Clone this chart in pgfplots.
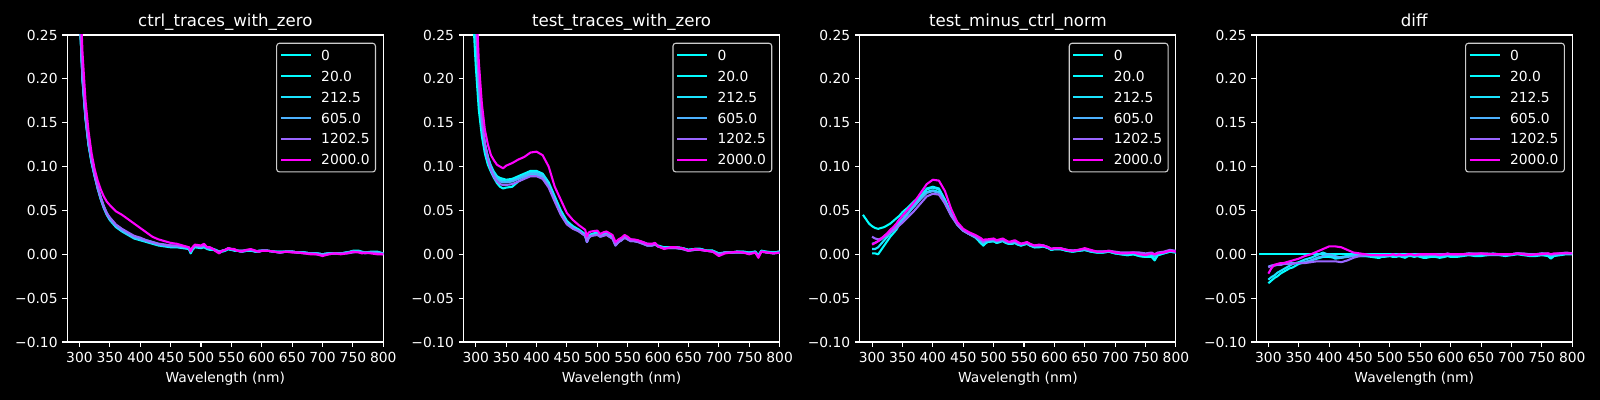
\documentclass[border=0pt]{standalone}
\usepackage{fontspec}
\setmainfont{DejaVu Sans}
\usepackage{pgfplots}
\usepackage{pgfplotstable}
\pgfplotsset{compat=1.18}
\definecolor{c0}{rgb}{0,1,1}
\definecolor{c1}{rgb}{0.01,0.99,1}
\definecolor{c2}{rgb}{0.10625,0.89375,1}
\definecolor{c3}{rgb}{0.3025,0.6975,1}
\definecolor{c4}{rgb}{0.60125,0.39875,1}
\definecolor{c5}{rgb}{1,0,1}

\pgfplotstableread{
x a b c d e f
285 0.60 nan nan nan nan nan
290 0.46 nan nan nan nan nan
295 0.35 nan nan nan nan nan
300 0.279 0.280 0.281 0.282 0.284 0.320
305 0.199 0.200 0.201 0.202 0.204 0.230
310 0.154 0.155 0.156 0.157 0.158 0.175
315 0.124 0.125 0.126 0.127 0.128 0.140
320 0.104 0.105 0.106 0.106 0.107 0.115
325 0.089 0.091 0.090 0.089 0.091 0.097
330 0.075 0.077 0.076 0.075 0.077 0.084
335 0.063 0.065 0.064 0.063 0.065 0.074
340 0.053 0.055 0.054 0.053 0.055 0.066
345 0.045 0.047 0.046 0.045 0.047 0.060
350 0.039 0.041 0.040 0.040 0.042 0.056
360 0.031 0.033 0.032 0.032 0.034 0.049
370 0.026 0.028 0.027 0.027 0.029 0.045
380 0.022 0.024 0.023 0.023 0.025 0.040
390 0.018 0.020 0.019 0.019 0.021 0.035
400 0.016 0.018 0.017 0.017 0.019 0.030
410 0.014 0.016 0.015 0.015 0.016 0.025
420 0.012 0.014 0.013 0.013 0.014 0.020
430 0.010 0.012 0.011 0.011 0.012 0.017
440 0.009 0.011 0.010 0.010 0.011 0.015
450 0.008 0.010 0.009 0.009 0.010 0.013
460 0.008 0.009 0.009 0.009 0.010 0.012
470 0.007 0.008 0.008 0.008 0.009 0.010
480 0.006 0.007 0.007 0.007 0.008 0.008
483 0.001 0.002 0.002 0.003 0.003 0.004
486 0.005 0.006 0.006 0.007 0.007 0.008
490 0.008 0.009 0.009 0.009 0.010 0.011
500 0.007 0.008 0.008 0.008 0.009 0.010
505 0.008 0.009 0.009 0.010 0.010 0.012
510 0.006 0.007 0.007 0.007 0.008 0.008
515 0.005 0.006 0.007 0.006 0.007 0.008
520 0.005 0.006 0.006 0.006 0.006 0.006
525 0.004 0.004 0.005 0.004 0.004 0.003
530 0.002 0.002 0.003 0.003 0.003 0.001
535 0.003 0.004 0.004 0.004 0.004 0.004
540 0.004 0.005 0.005 0.005 0.005 0.005
545 0.006 0.006 0.006 0.007 0.007 0.007
550 0.005 0.005 0.005 0.006 0.006 0.006
555 0.005 0.004 0.005 0.005 0.005 0.006
560 0.004 0.004 0.004 0.004 0.004 0.004
567 0.003 0.003 0.003 0.004 0.004 0.003
575 0.004 0.004 0.004 0.004 0.005 0.005
582 0.005 0.004 0.005 0.005 0.005 0.006
590 0.003 0.003 0.003 0.003 0.004 0.004
595 0.003 0.003 0.004 0.004 0.003 0.003
600 0.004 0.004 0.004 0.004 0.004 0.004
610 0.004 0.004 0.004 0.004 0.004 0.004
620 0.003 0.003 0.003 0.003 0.003 0.003
630 0.002 0.003 0.003 0.002 0.002 0.002
640 0.003 0.003 0.003 0.003 0.003 0.003
650 0.003 0.003 0.003 0.003 0.003 0.002
660 0.002 0.002 0.002 0.002 0.002 0.002
670 0.002 0.002 0.002 0.002 0.001 0.001
680 0.001 0.001 0.001 0.001 0.001 0.000
690 0.001 0.001 0.001 0.001 0.000 0.000
700 0.000 0.000 0.000 0.000 -0.001 -0.002
710 0.001 0.001 0.001 0.001 0.000 0.000
720 0.001 0.001 0.001 0.001 0.001 0.001
730 0.001 0.001 0.001 0.001 0.001 0.000
740 0.002 0.002 0.002 0.002 0.001 0.001
750 0.004 0.003 0.003 0.003 0.002 0.003
760 0.004 0.003 0.003 0.003 0.003 0.002
765 0.003 0.002 0.002 0.002 0.002 0.001
770 0.002 0.002 0.002 0.002 0.001 0.002
780 0.003 0.002 0.002 0.002 0.002 0.001
790 0.003 0.002 0.002 0.002 0.001 0.000
800 0.001 0.001 0.001 0.001 0.000 0.000
}\tA

\pgfplotstableread{
x a b c d e f
285 0.50 nan nan nan nan nan
290 0.38 nan nan nan nan nan
295 0.28 nan nan nan nan nan
300 0.215 0.260 0.265 0.270 0.270 0.300
305 0.165 0.190 0.190 0.195 0.195 0.220
310 0.135 0.150 0.150 0.152 0.152 0.172
315 0.115 0.126 0.125 0.126 0.125 0.142
320 0.102 0.111 0.110 0.110 0.108 0.125
325 0.094 0.101 0.099 0.099 0.096 0.113
330 0.087 0.094 0.092 0.091 0.088 0.107
335 0.081 0.089 0.087 0.086 0.083 0.102
340 0.077 0.087 0.085 0.083 0.080 0.100
345 0.075 0.086 0.084 0.082 0.079 0.098
350 0.076 0.085 0.083 0.082 0.079 0.101
360 0.077 0.086 0.084 0.083 0.080 0.104
370 0.083 0.089 0.087 0.086 0.083 0.108
380 0.087 0.092 0.090 0.089 0.086 0.111
390 0.091 0.095 0.093 0.092 0.089 0.116
400 0.091 0.095 0.094 0.092 0.089 0.117
410 0.088 0.092 0.091 0.089 0.086 0.113
420 0.078 0.082 0.080 0.078 0.076 0.100
430 0.062 0.066 0.064 0.062 0.060 0.077
440 0.047 0.050 0.048 0.046 0.045 0.062
450 0.036 0.038 0.037 0.035 0.034 0.047
460 0.031 0.032 0.031 0.030 0.029 0.039
470 0.027 0.028 0.027 0.026 0.026 0.033
480 0.022 0.023 0.022 0.021 0.021 0.028
483 0.014 0.016 0.015 0.014 0.014 0.020
486 0.020 0.021 0.020 0.019 0.019 0.025
490 0.022 0.023 0.022 0.021 0.021 0.026
500 0.024 0.025 0.024 0.023 0.022 0.027
505 0.021 0.022 0.021 0.020 0.020 0.023
510 0.023 0.024 0.023 0.022 0.021 0.025
515 0.024 0.025 0.024 0.023 0.022 0.026
520 0.022 0.022 0.021 0.020 0.020 0.024
525 0.019 0.020 0.019 0.018 0.018 0.022
530 0.011 0.012 0.011 0.010 0.010 0.014
535 0.015 0.016 0.015 0.014 0.014 0.017
540 0.017 0.018 0.017 0.016 0.016 0.019
545 0.020 0.021 0.020 0.019 0.019 0.022
550 0.018 0.019 0.018 0.017 0.017 0.020
555 0.016 0.017 0.016 0.015 0.015 0.017
560 0.016 0.016 0.016 0.015 0.015 0.017
567 0.015 0.015 0.015 0.014 0.014 0.016
575 0.013 0.014 0.013 0.012 0.012 0.014
582 0.011 0.012 0.011 0.010 0.010 0.012
590 0.011 0.011 0.011 0.010 0.010 0.012
595 0.012 0.012 0.012 0.011 0.011 0.013
600 0.009 0.010 0.009 0.009 0.009 0.009
610 0.007 0.008 0.007 0.007 0.007 0.006
620 0.008 0.008 0.008 0.007 0.007 0.008
630 0.008 0.008 0.008 0.007 0.007 0.008
640 0.007 0.007 0.007 0.006 0.006 0.007
650 0.005 0.005 0.005 0.004 0.004 0.004
660 0.006 0.006 0.006 0.005 0.005 0.006
670 0.006 0.006 0.006 0.005 0.005 0.005
680 0.004 0.004 0.004 0.004 0.004 0.004
690 0.004 0.004 0.004 0.003 0.003 0.003
700 0.000 0.001 0.001 0.000 0.000 -0.002
710 0.002 0.002 0.002 0.002 0.002 0.001
720 0.002 0.002 0.002 0.002 0.002 0.002
730 0.003 0.003 0.003 0.002 0.002 0.003
740 0.002 0.003 0.003 0.002 0.002 0.002
750 0.001 0.002 0.002 0.001 0.001 0.000
760 0.003 0.003 0.003 0.002 0.002 0.002
765 -0.002 -0.001 -0.002 -0.002 -0.002 -0.004
770 0.004 0.004 0.004 0.003 0.003 0.003
780 0.002 0.003 0.002 0.002 0.002 0.002
790 0.002 0.002 0.002 0.001 0.001 0.001
800 0.003 0.003 0.003 0.002 0.002 0.002
}\tB

\pgfplotstableread{
x a b c d e f
285 0.045 nan nan nan nan nan
290 0.040 nan nan nan nan nan
295 0.035 nan nan nan nan nan
300 0.032 0.001 0.006 0.012 0.020 0.011
305 0.030 0.001 0.006 0.013 0.018 0.013
310 0.029 0.000 0.008 0.015 0.017 0.015
315 0.030 0.005 0.012 0.017 0.018 0.018
320 0.031 0.010 0.016 0.020 0.020 0.021
325 0.033 0.015 0.020 0.023 0.022 0.024
330 0.035 0.020 0.024 0.026 0.025 0.028
335 0.038 0.024 0.028 0.030 0.027 0.031
340 0.041 0.028 0.032 0.033 0.030 0.035
345 0.044 0.034 0.036 0.037 0.033 0.040
350 0.048 0.039 0.040 0.040 0.036 0.044
360 0.054 0.047 0.048 0.048 0.043 0.052
370 0.061 0.056 0.057 0.055 0.050 0.060
380 0.066 0.066 0.066 0.063 0.058 0.070
390 0.071 0.075 0.074 0.070 0.066 0.080
400 0.073 0.077 0.076 0.072 0.069 0.085
410 0.071 0.075 0.074 0.070 0.068 0.084
420 0.058 0.062 0.062 0.060 0.058 0.072
430 0.045 0.046 0.046 0.045 0.044 0.052
440 0.035 0.034 0.035 0.034 0.034 0.037
450 0.028 0.027 0.027 0.027 0.027 0.029
460 0.024 0.023 0.023 0.023 0.023 0.025
470 0.020 0.019 0.020 0.020 0.020 0.022
480 0.013 0.012 0.014 0.015 0.016 0.018
483 0.010 0.010 0.012 0.013 0.014 0.016
486 0.013 0.012 0.014 0.015 0.016 0.017
490 0.014 0.014 0.015 0.016 0.016 0.017
500 0.015 0.015 0.016 0.016 0.017 0.018
505 0.013 0.013 0.014 0.015 0.015 0.016
510 0.014 0.014 0.015 0.015 0.016 0.017
515 0.016 0.015 0.016 0.016 0.017 0.018
520 0.013 0.013 0.014 0.014 0.015 0.016
525 0.012 0.012 0.013 0.013 0.014 0.014
530 0.012 0.012 0.013 0.013 0.014 0.015
535 0.013 0.013 0.014 0.014 0.015 0.016
540 0.011 0.011 0.012 0.012 0.013 0.014
545 0.010 0.010 0.011 0.011 0.012 0.012
550 0.011 0.011 0.012 0.012 0.012 0.013
555 0.012 0.012 0.013 0.013 0.013 0.014
560 0.010 0.010 0.010 0.011 0.011 0.012
567 0.008 0.008 0.009 0.009 0.010 0.010
575 0.009 0.008 0.009 0.009 0.010 0.011
582 0.009 0.009 0.009 0.010 0.010 0.010
590 0.007 0.007 0.007 0.008 0.008 0.008
595 0.005 0.005 0.006 0.006 0.006 0.006
600 0.006 0.006 0.006 0.006 0.007 0.007
610 0.006 0.006 0.006 0.006 0.007 0.007
620 0.004 0.004 0.005 0.005 0.005 0.005
630 0.003 0.003 0.004 0.004 0.004 0.004
640 0.004 0.004 0.004 0.005 0.005 0.005
650 0.005 0.005 0.005 0.006 0.006 0.007
660 0.003 0.003 0.004 0.004 0.004 0.005
670 0.002 0.002 0.003 0.003 0.003 0.003
680 0.002 0.002 0.003 0.003 0.003 0.003
690 0.003 0.003 0.003 0.003 0.004 0.004
700 0.001 0.001 0.002 0.002 0.003 0.002
710 0.000 0.000 0.001 0.001 0.002 0.001
720 -0.001 -0.001 0.001 0.001 0.002 0.001
730 0.000 0.000 0.001 0.002 0.002 0.002
740 -0.002 -0.002 0.000 0.001 0.002 0.000
750 -0.003 -0.003 -0.001 0.000 0.001 -0.001
760 -0.003 -0.002 0.000 0.001 0.002 0.001
765 -0.007 -0.006 -0.003 -0.002 0.000 0.000
770 -0.001 -0.001 0.001 0.001 0.002 0.001
780 0.001 0.001 0.002 0.002 0.003 0.002
790 0.003 0.003 0.004 0.004 0.005 0.004
800 0.002 0.002 0.003 0.003 0.004 0.003
}\tC

\pgfplotstableread{
x a b c d e f
285 0 nan nan nan nan nan
290 0 nan nan nan nan nan
295 0 nan nan nan nan nan
300 0 -0.033 -0.029 -0.014 -0.015 -0.022
305 0 -0.030 -0.026 -0.013 -0.013 -0.016
310 0 -0.027 -0.024 -0.013 -0.012 -0.012
315 0 -0.025 -0.021 -0.012 -0.012 -0.011
320 0 -0.022 -0.019 -0.012 -0.012 -0.010
325 0 -0.020 -0.017 -0.011 -0.011 -0.010
330 0 -0.018 -0.015 -0.011 -0.011 -0.009
335 0 -0.016 -0.013 -0.010 -0.011 -0.008
340 0 -0.015 -0.011 -0.010 -0.011 -0.007
345 0 -0.013 -0.010 -0.010 -0.010 -0.006
350 0 -0.011 -0.009 -0.010 -0.010 -0.005
360 0 -0.009 -0.006 -0.009 -0.010 -0.002
370 0 -0.007 -0.004 -0.007 -0.009 0.000
380 0 -0.005 -0.001 -0.004 -0.008 0.003
390 0 -0.003 0.002 -0.002 -0.008 0.006
400 0 -0.003 -0.001 0.000 -0.008 0.009
410 0 -0.004 -0.005 -0.002 -0.008 0.009
420 0 -0.003 -0.004 -0.004 -0.009 0.008
430 0 -0.002 -0.002 -0.003 -0.007 0.005
440 0 -0.002 -0.001 -0.002 -0.004 0.002
450 0 -0.002 -0.002 -0.001 -0.002 0.001
460 0 -0.002 -0.002 -0.001 -0.001 0.000
470 0 -0.003 -0.002 -0.001 -0.001 -0.001
480 0 -0.004 -0.002 -0.001 -0.001 -0.001
483 0 -0.004 -0.003 -0.002 -0.001 -0.001
486 0 -0.003 -0.002 -0.001 -0.001 -0.001
490 0 -0.003 -0.002 -0.001 -0.001 -0.001
500 0 -0.002 -0.002 -0.001 -0.001 -0.001
505 0 -0.003 -0.001 -0.001 0.000 0.000
510 0 -0.003 -0.002 -0.001 -0.001 -0.001
515 0 -0.002 -0.002 0.000 -0.001 0.000
520 0 -0.003 -0.002 -0.001 -0.001 -0.001
525 0 -0.004 -0.002 -0.001 -0.001 -0.001
530 0 -0.002 -0.002 -0.001 0.000 0.000
535 0 -0.002 -0.001 0.000 0.000 0.000
540 0 -0.003 -0.002 -0.001 -0.001 -0.001
545 0 -0.002 -0.002 -0.001 0.000 -0.001
550 0 -0.003 -0.002 -0.001 0.000 0.000
555 0 -0.004 -0.002 -0.001 -0.001 0.000
560 0 -0.004 -0.002 -0.001 0.000 0.000
567 0 -0.003 -0.001 0.000 0.000 0.000
575 0 -0.003 -0.002 0.000 0.000 0.000
582 0 -0.004 -0.002 -0.001 0.000 -0.001
590 0 -0.003 -0.002 -0.001 0.000 0.000
595 0 -0.002 -0.001 0.000 0.001 0.000
600 0 -0.003 -0.001 0.000 0.000 0.000
610 0 -0.003 -0.001 -0.001 0.000 0.000
620 0 -0.002 -0.001 0.000 0.000 0.000
630 0 -0.001 0.000 0.001 0.001 0.000
640 0 -0.002 0.000 0.000 0.001 0.000
650 0 -0.002 0.000 0.000 0.001 0.001
660 0 -0.001 -0.001 0.000 0.001 0.000
670 0 -0.001 0.000 0.001 0.000 0.000
680 0 -0.001 0.000 0.000 0.000 0.000
690 0 -0.002 -0.001 0.000 0.000 0.000
700 0 -0.001 0.000 0.000 0.000 0.000
710 0 0.000 0.001 0.001 0.001 0.001
720 0 -0.001 0.000 0.000 0.001 0.000
730 0 -0.002 0.000 0.000 0.000 -0.001
740 0 -0.002 -0.001 0.000 0.000 0.000
750 0 -0.001 0.000 0.001 0.001 0.000
760 0 -0.002 0.000 0.000 0.001 0.001
765 0 -0.005 -0.002 -0.001 0.000 0.000
770 0 -0.002 -0.001 0.000 0.000 0.001
780 0 -0.001 0.000 0.001 0.001 0.001
790 0 0.000 0.001 0.001 0.002 0.001
800 0 0.000 0.001 0.001 0.001 0.001
}\tD

\pgfplotsset{
  panel/.style={
    scale only axis, width=3.16in, height=3.07in, anchor=south west,
    xmin=280, xmax=800, ymin=-0.1, ymax=0.25,
    xtick={300,350,...,800},
    ytick={-0.1,-0.05,0,0.05,0.1,0.15,0.2,0.25},
    yticklabels={−0.10,−0.05,0.00,0.05,0.10,0.15,0.20,0.25},
    /pgf/number format/assume math mode=true,
    axis line style={white, line width=0.8pt},
    tick style={white, line width=0.8pt},
    major tick length=3.5pt, tick align=outside,
    xtick pos=left, ytick pos=left,
    ticklabel style={font=\fontsize{10}{12}\selectfont, text=white},
    title style={font=\fontsize{12}{14}\selectfont, text=white, at={(0.5,1)}, anchor=base},
    xlabel={Wavelength (nm)},
    xlabel style={font=\fontsize{10}{12}\selectfont, text=white, at={(0.5,0)}, anchor=base, yshift=-29pt},
    legend cell align=left,
    legend image code/.code={\draw[##1] (0pt,0pt) -- (0.30in,0pt);},
    legend style={at={(1,1)}, xshift=-0.073in, yshift=-0.077in, anchor=north east,
      fill=black, draw=white!80!black, line width=0.8pt, rounded corners=2pt,
      text=white, font=\fontsize{10}{12}\selectfont,
      inner xsep=2.2pt, inner ysep=1.2pt, column sep=4.8pt, row sep=0pt,
      nodes={inner xsep=2pt, inner ysep=3.9pt, text height=7.3pt, text depth=0pt}},
    every axis plot/.append style={line width=1.5pt, line join=round},
    no markers,
  }
}

\begin{document}
\begin{tikzpicture}
\fill[black] (0,0) rectangle (16in,4in);
\useasboundingbox (0,0) rectangle (16in,4in);
\begin{axis}[panel, at={(0.673in,0.58in)}, title={ctrl\_traces\_with\_zero}]
\addplot[c0] table[x=x,y=a]{\tA};
\addplot[c1] table[x=x,y=b]{\tA};
\addplot[c2] table[x=x,y=c]{\tA};
\addplot[c3] table[x=x,y=d]{\tA};
\addplot[c4] table[x=x,y=e]{\tA};
\addplot[c5] table[x=x,y=f]{\tA};
\legend{0,20.0,212.5,605.0,1202.5,2000.0}
\end{axis}
\begin{axis}[panel, at={(4.636in,0.58in)}, title={test\_traces\_with\_zero}]
\addplot[c0] table[x=x,y=a]{\tB};
\addplot[c1] table[x=x,y=b]{\tB};
\addplot[c2] table[x=x,y=c]{\tB};
\addplot[c3] table[x=x,y=d]{\tB};
\addplot[c4] table[x=x,y=e]{\tB};
\addplot[c5] table[x=x,y=f]{\tB};
\legend{0,20.0,212.5,605.0,1202.5,2000.0}
\end{axis}
\begin{axis}[panel, at={(8.599in,0.58in)}, title={test\_minus\_ctrl\_norm}]
\addplot[c0] table[x=x,y=a]{\tC};
\addplot[c1] table[x=x,y=b]{\tC};
\addplot[c2] table[x=x,y=c]{\tC};
\addplot[c3] table[x=x,y=d]{\tC};
\addplot[c4] table[x=x,y=e]{\tC};
\addplot[c5] table[x=x,y=f]{\tC};
\legend{0,20.0,212.5,605.0,1202.5,2000.0}
\end{axis}
\begin{axis}[panel, at={(12.562in,0.58in)}, title={diff}]
\addplot[c0] table[x=x,y=a]{\tD};
\addplot[c1] table[x=x,y=b]{\tD};
\addplot[c2] table[x=x,y=c]{\tD};
\addplot[c3] table[x=x,y=d]{\tD};
\addplot[c4] table[x=x,y=e]{\tD};
\addplot[c5] table[x=x,y=f]{\tD};
\legend{0,20.0,212.5,605.0,1202.5,2000.0}
\end{axis}
\end{tikzpicture}
\end{document}
